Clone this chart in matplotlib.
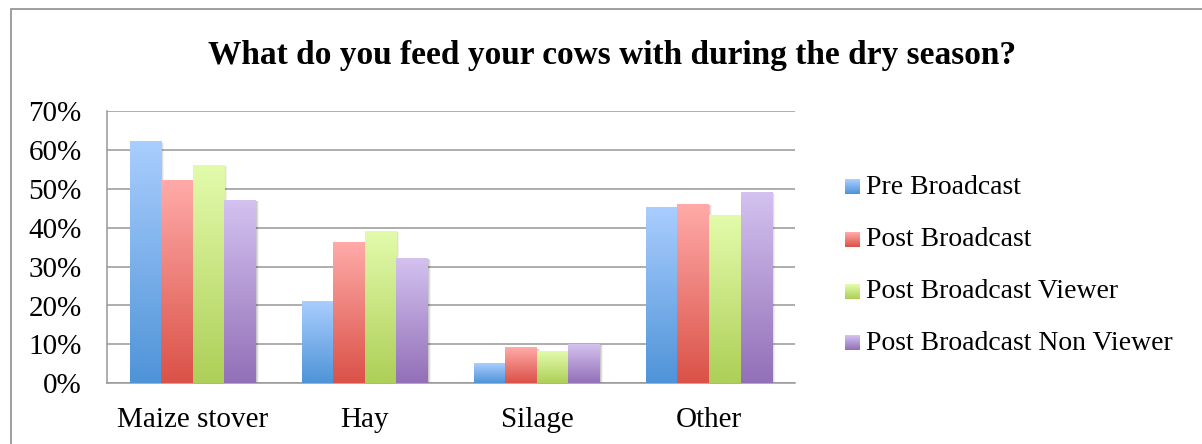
import numpy as np
import matplotlib
matplotlib.use("Agg")
import matplotlib.pyplot as plt
from matplotlib.patches import Rectangle
from matplotlib.colors import to_rgb
from matplotlib.ticker import PercentFormatter, MultipleLocator
import matplotlib.transforms as mtransforms

categories = ["Maize stover", "Hay", "Silage", "Other"]
series_names = ["Pre Broadcast", "Post Broadcast", "Post Broadcast Viewer",
                "Post Broadcast Non Viewer"]
pre_broadcast = [62, 21, 5, 45]
post_broadcast = [52, 36, 9, 46]
post_viewer = [56, 39, 8, 43]
post_non_viewer = [47, 32, 10, 49]
series_values = [pre_broadcast, post_broadcast, post_viewer, post_non_viewer]

# (top colour, bottom colour) of each series' vertical gradient
gradients = [("#a9cdfe", "#4f94d8"),
             ("#ffaaa8", "#da5248"),
             ("#e2fbab", "#aecf58"),
             ("#d3c1ef", "#9370b8")]

FONT = ["Liberation Serif", "DejaVu Serif"]
plt.rcParams["font.family"] = FONT

fig = plt.figure(figsize=(12.02, 4.44), dpi=100)
W, H = fig.get_size_inches() * fig.dpi
ax = fig.add_axes([106.7 / W, 1 - 383.3 / H, (795 - 106.7) / W, (383.3 - 111) / H])

n_series = len(series_values)
bar_w = 0.1836
x = np.arange(len(categories))


def gradient_image(top, bottom, n=64):
    t = np.linspace(0, 1, n)[:, None]
    c0 = np.array(to_rgb(top))
    c1 = np.array(to_rgb(bottom))
    return (c0 * (1 - t) + c1 * t)[:, None, :].repeat(2, axis=1)


for i, (vals, (top, bottom)) in enumerate(zip(series_values, gradients)):
    offs = (i - (n_series - 1) / 2) * bar_w
    bars = ax.bar(x + offs, np.array(vals) / 100, width=bar_w,
                  color="none", edgecolor="none", zorder=3)
    img = gradient_image(top, bottom)
    for b in bars:
        x0, w, h = b.get_x(), b.get_width(), b.get_height()
        # soft drop shadow
        for k, a in ((3, 0.05), (2, 0.08), (1, 0.10)):
            sh = Rectangle((x0, 0), w, h, facecolor="black", edgecolor="none",
                           alpha=a, zorder=2,
                           transform=ax.transData + mtransforms.ScaledTranslation(
                               k / 100, -k / 100 * 0.3, fig.dpi_scale_trans))
            ax.add_patch(sh)
        ax.imshow(img, extent=[x0, x0 + w, 0, h], aspect="auto",
                  interpolation="bilinear", zorder=3 + i * 0.01)

ax.set_xlim(-0.5, len(categories) - 0.5)
ax.set_ylim(0, 0.70)
ax.yaxis.set_major_locator(MultipleLocator(0.10))
ax.yaxis.set_major_formatter(PercentFormatter(1.0, decimals=0))
ax.set_xticks(x)
ax.set_xticklabels(categories)

grid_c = "#979797"
ax.grid(axis="y", color=grid_c, linewidth=1.1, zorder=0)
ax.set_axisbelow(True)
for s in ("top", "right"):
    ax.spines[s].set_visible(False)
for s in ("left", "bottom"):
    ax.spines[s].set_color(grid_c)
    ax.spines[s].set_linewidth(1.1)
ax.tick_params(axis="both", length=0, labelsize=21, colors="black")
ax.tick_params(axis="y", pad=18)
ax.tick_params(axis="x", pad=17)

fig.text(0.509, 0.874, "What do you feed your cows with during the dry season?",
         ha="center", va="center", fontsize=24, fontweight="bold")

# legend keys with the same gradients
key_px = 15
rows_y = [187, 240, 292, 343]
for name, (top, bottom), yc in zip(series_names, gradients, rows_y):
    strips = 15
    for s in range(strips):
        t = s / (strips - 1)
        c = np.array(to_rgb(top)) * (1 - t) + np.array(to_rgb(bottom)) * t
        y_top = yc - key_px / 2 + s * key_px / strips
        fig.patches.append(Rectangle((845 / W, 1 - (y_top + key_px / strips) / H),
                                     key_px / W, key_px / strips / H + 0.0005,
                                     facecolor=c, edgecolor="none",
                                     transform=fig.transFigure))
    fig.text(866 / W, 1 - yc / H, name, ha="left", va="center", fontsize=20)

# outer chart border
fig.patches.append(Rectangle((11 / W, -0.1), 1.2, 1 - 9 / H + 0.1, fill=False,
                             edgecolor="#8e8e8e", linewidth=1.2,
                             transform=fig.transFigure))

fig.savefig("out.png", dpi=100, facecolor="white")
